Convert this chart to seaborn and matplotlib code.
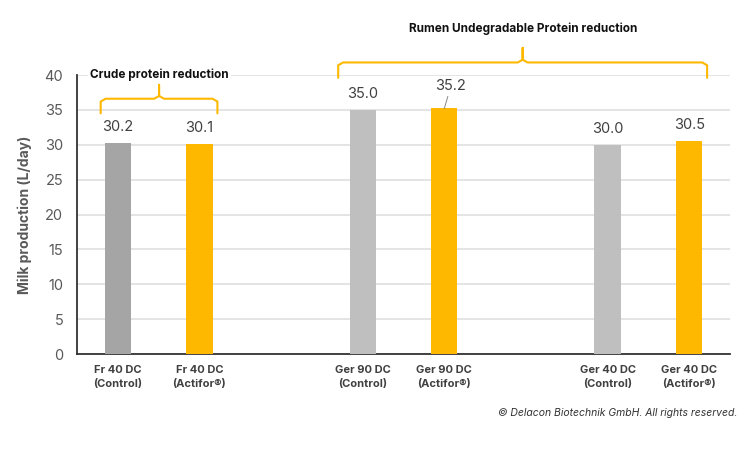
import numpy as np
import matplotlib.pyplot as plt
import seaborn as sns

# data
bar_names = ["Fr 40 DC\n(Control)", "Fr 40 DC\n(Actifor®)",
             "Ger 90 DC\n(Control)", "Ger 90 DC\n(Actifor®)",
             "Ger 40 DC\n(Control)", "Ger 40 DC\n(Actifor®)"]
group_index = [0, 0, 1, 1, 2, 2]
within_index = [0, 1, 0, 1, 0, 1]
milk_values = [30.2, 30.1, 35.0, 35.2, 30.0, 30.5]
bar_colors = ["#A5A5A5", "#FFB800", "#BFBFBF", "#FFB800", "#BFBFBF", "#FFB800"]
brace_texts = ["Crude protein reduction", "Rumen Undegradable Protein reduction"]
brace_groups = [[0], [1, 2]]

sns.set_theme(style="white")
plt.rcParams["font.family"] = ["Inter", "DejaVu Sans"]

# pairs sit 1 apart, groups 3 apart
pos = [g * 3 + w for g, w in zip(group_index, within_index)]

fig = plt.figure(figsize=(7.5, 4.5), dpi=100)
ax = fig.add_axes([0.1027, 0.2133, 0.8706, 0.62])

sns.barplot(x=pos, y=milk_values, hue=bar_names, palette=dict(zip(bar_names, bar_colors)),
            native_scale=True, dodge=False, width=0.32, legend=False, ax=ax,
            saturation=1, linewidth=0, zorder=3)

ax.set_xlim(-0.5, 7.5)
ax.set_ylim(0, 40)
ax.set_yticks(np.arange(0, 41, 5))
ax.yaxis.grid(True, color="#DCDCDC", linewidth=1.1, zorder=0)
ax.set_axisbelow(True)
for s in ["top", "right"]:
    ax.spines[s].set_visible(False)
ax.spines["left"].set_color("#333333")
ax.spines["bottom"].set_color("#333333")
ax.spines["left"].set_linewidth(1.3)
ax.spines["bottom"].set_linewidth(1.3)

ax.set_xticks(pos)
ax.set_xticklabels(bar_names, fontsize=8, fontweight="bold", color="#404040", linespacing=1.5)
ax.tick_params(axis="y", labelsize=10.5, labelcolor="#595959", length=0, pad=10)
ax.tick_params(axis="x", length=0, pad=8)
ax.set_ylabel("Milk production (L/day)", fontsize=10, fontweight="bold", color="#595959", labelpad=9)

# value labels
for i, (p, v) in enumerate(zip(pos, milk_values)):
    if i == 3:
        ax.annotate(f"{v:.1f}", xy=(p, v), xytext=(p + 0.08, v + 2.2), ha="center", va="bottom",
                    fontsize=10.5, color="#404040",
                    arrowprops=dict(arrowstyle="-", color="#888888", lw=0.7, shrinkA=0, shrinkB=0))
    else:
        ax.text(p, v + 1.3, f"{v:.1f}", ha="center", va="bottom", fontsize=10.5, color="#404040")


def draw_brace(x0, x1, ybar, drop, tip, color="#FFB800"):
    r = 0.06
    xs = [x0, x0, x0 + r, (x0 + x1) / 2 - r, (x0 + x1) / 2, (x0 + x1) / 2, (x0 + x1) / 2,
          (x0 + x1) / 2 + r, x1 - r, x1, x1]
    ys = [ybar - drop, ybar - 0.4, ybar, ybar, ybar + 0.4, ybar + tip, ybar + 0.4,
          ybar, ybar, ybar - 0.4, ybar - drop]
    ax.plot(xs, ys, color=color, lw=1.5, clip_on=False, solid_capstyle="round",
            solid_joinstyle="round", zorder=4)


# crude protein brace
g0 = [p for p, g in zip(pos, group_index) if g in brace_groups[0]]
draw_brace(min(g0) - 0.21, max(g0) + 0.22, 36.6, 2.1, 2.0)
ax.text((min(g0) + max(g0)) / 2 + 0.01, 40.1, brace_texts[0], ha="center", va="center",
        fontsize=8.5, fontweight="bold", color="#111111", zorder=5,
        bbox=dict(facecolor="white", edgecolor="none", pad=1.5))

# rumen undegradable protein brace
g1 = [p for p, g in zip(pos, group_index) if g in brace_groups[1]]
draw_brace(min(g1) - 0.3, max(g1) + 0.22, 41.8, 2.2, 2.1)
ax.text((min(g1) + max(g1)) / 2 - 0.03, 46.6, brace_texts[1], ha="center", va="center",
        fontsize=8.5, fontweight="bold", color="#111111", clip_on=False)

fig.text(0.983, 0.082, "© Delacon Biotechnik GmbH. All rights reserved.", ha="right",
         va="center", fontsize=7.5, style="italic", color="#333333")

fig.savefig("out.png", dpi=100)
